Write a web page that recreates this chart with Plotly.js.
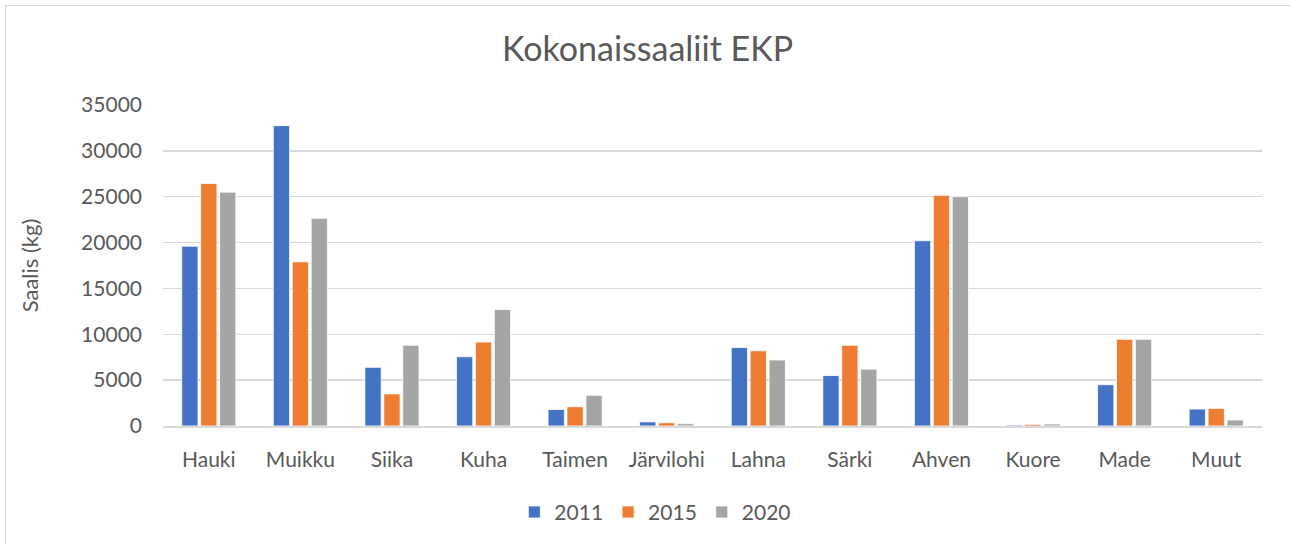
<!DOCTYPE html>
<html>
<head>
<meta charset="utf-8">
<script src="https://cdn.plot.ly/plotly-3.0.1.min.js"></script>
<style>
html,body{margin:0;padding:0;background:#fff;overflow:hidden;}
#frame{position:absolute;left:5px;top:5px;width:1300px;height:560px;border:1.5px solid #d9d9d9;box-sizing:border-box;}
#chart{position:absolute;left:0;top:0;width:1290px;height:544px;}
</style>
</head>
<body>
<div id="frame"></div>
<div id="chart"></div>
<script>
const categories = ["Hauki","Muikku","Siika","Kuha","Taimen","Järvilohi","Lahna","Särki","Ahven","Kuore","Made","Muut"];
const seriesNames = ["2011","2015","2020"];
const values2011 = [19600, 32750, 6400, 7550, 1800, 450, 8550, 5500, 20200, 100, 4500, 1850];
const values2015 = [26450, 17900, 3500, 9150, 2100, 350, 8200, 8800, 25150, 180, 9450, 1920];
const values2020 = [25500, 22650, 8800, 12700, 3350, 250, 7200, 6200, 25000, 220, 9450, 650];
const colors = ["#4472c4", "#ed7d31", "#a5a5a5"];
const yTicks = [0, 5000, 10000, 15000, 20000, 25000, 30000, 35000];

const allValues = [values2011, values2015, values2020];
const traces = allValues.map((v, i) => ({
  type: "bar",
  name: seriesNames[i],
  x: categories,
  y: v,
  marker: {color: colors[i], line: {color: "#ffffff", width: 0.8}},
  hoverinfo: "x+y+name"
}));

const font = "Lato, 'Open Sans', sans-serif";
const layout = {
  width: 1290, height: 544,
  paper_bgcolor: "rgba(0,0,0,0)",
  plot_bgcolor: "rgba(0,0,0,0)",
  margin: {l: 163, r: 28, t: 105, b: 117},
  font: {family: font, color: "#595959", size: 21},
  title: {text: "Kokonaissaaliit EKP", font: {family: font, size: 34, color: "#595959"}, x: 0.502, xanchor: "center", y: 0.91, yanchor: "middle"},
  barmode: "group",
  bargap: 0.38,
  bargroupgap: 0.14,
  showlegend: true,
  legend: {orientation: "h", x: 0.448, xanchor: "center", y: -0.265, yanchor: "middle", font: {family: font, size: 21, color: "#595959"}, itemwidth: 30, traceorder: "normal"},
  xaxis: {
    type: "category",
    showgrid: false,
    showline: true, linecolor: "#d9d9d9", linewidth: 1.5,
    ticks: "", tickfont: {family: font, size: 21, color: "#595959"},
    ticklabelstandoff: 14
  },
  yaxis: {
    range: [0, 35000],
    tickvals: yTicks,
    ticktext: yTicks.map(String),
    showgrid: true, gridcolor: "#d9d9d9", gridwidth: 1.5,
    zeroline: false, showline: false,
    ticks: "", ticklabelstandoff: 20,
    tickfont: {family: font, size: 21, color: "#595959"},
    title: {text: "Saalis (kg)", font: {family: font, size: 22, color: "#595959"}, standoff: 36}
  }
};
Plotly.newPlot("chart", traces, layout, {displayModeBar: false, staticPlot: true});
</script>
</body>
</html>
